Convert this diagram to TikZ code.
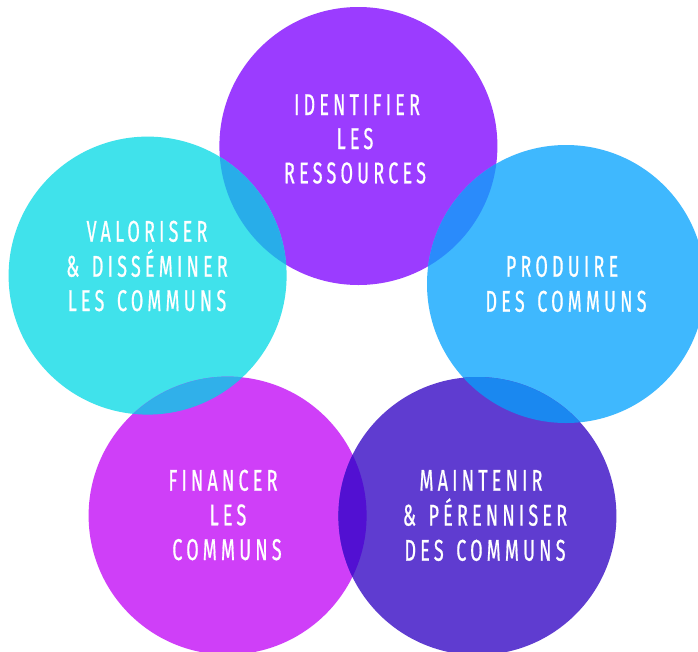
\documentclass[tikz,border=0pt]{standalone}
\usepackage{fontspec}
\newfontfamily\labelfont[FakeStretch=0.6,LetterSpace=14,WordSpace=1.4,FakeBold=0.6]{Fira Sans}
\definecolor{cTop}{HTML}{9B3CFF}
\definecolor{cLeft}{HTML}{40E2EB}
\definecolor{cRight}{HTML}{3FB8FE}
\definecolor{cBL}{HTML}{CF3FF8}
\definecolor{cBR}{HTML}{5F3CD0}
\definecolor{oTL}{HTML}{28ADE9}
\definecolor{oTR}{HTML}{2A8BFB}
\definecolor{oLB}{HTML}{30B0EA}
\definecolor{oRB}{HTML}{1A88F0}
\definecolor{oBB}{HTML}{5210D2}
\begin{document}
\begin{tikzpicture}[x=1pt,y=-1pt,
  lbl/.style={text=white,font=\labelfont\fontsize{30}{32}\selectfont,anchor=base,inner sep=0pt}]
\useasboundingbox (0,0) rectangle (698,651);
\fill[white] (0,0) rectangle (698,651);
\clip (0,0) rectangle (698,651);
\def\R{139}
% centres
\coordinate (cT) at (358.4,146);
\coordinate (cL) at (147.6,275.6);
\coordinate (cR) at (566,284);
\coordinate (cB1) at (227.6,515.6);
\coordinate (cB2) at (477.4,516);
% circles
\fill[cTop] (cT) circle (\R);
\fill[cLeft] (cL) circle (\R);
\fill[cRight] (cR) circle (\R);
\fill[cBL] (cB1) circle (\R);
\fill[cBR] (cB2) circle (\R);
% overlaps
\begin{scope}\clip (cT) circle (\R); \fill[oTL] (cL) circle (\R); \fill[oTR] (cR) circle (\R);\end{scope}
\begin{scope}\clip (cL) circle (\R); \fill[oLB] (cB1) circle (\R);\end{scope}
\begin{scope}\clip (cR) circle (\R); \fill[oRB] (cB2) circle (\R);\end{scope}
\begin{scope}\clip (cB1) circle (\R); \fill[oBB] (cB2) circle (\R);\end{scope}
% labels
\node[lbl] (t1) at (357,115) {IDENTIFIER};
\node[lbl] (t2) at (355,149) {LES};
\node[lbl] (t3) at (355,183.3) {RESSOURCES};
\node[lbl] (l1) at (147,241.7) {VALORISER};
\node[lbl] (l2) at (147,276.7) {\& DISSÉMINER};
\node[lbl] (l3) at (147,311) {LES COMMUNS};
\node[lbl] (r1) at (562,276.7) {PRODUIRE};
\node[lbl] (r2) at (566,311.7) {DES COMMUNS};
\node[lbl] (b1) at (223,490.7) {FINANCER};
\node[lbl] (b2) at (228,525.3) {LES};
\node[lbl] (b3) at (227,560) {COMMUNS};
\node[lbl] (m1) at (481,490.7) {MAINTENIR};
\node[lbl] (m2) at (485,525.6) {\& PÉRENNISER};
\node[lbl] (m3) at (485,560.7) {DES COMMUNS};
\end{tikzpicture}
\end{document}
